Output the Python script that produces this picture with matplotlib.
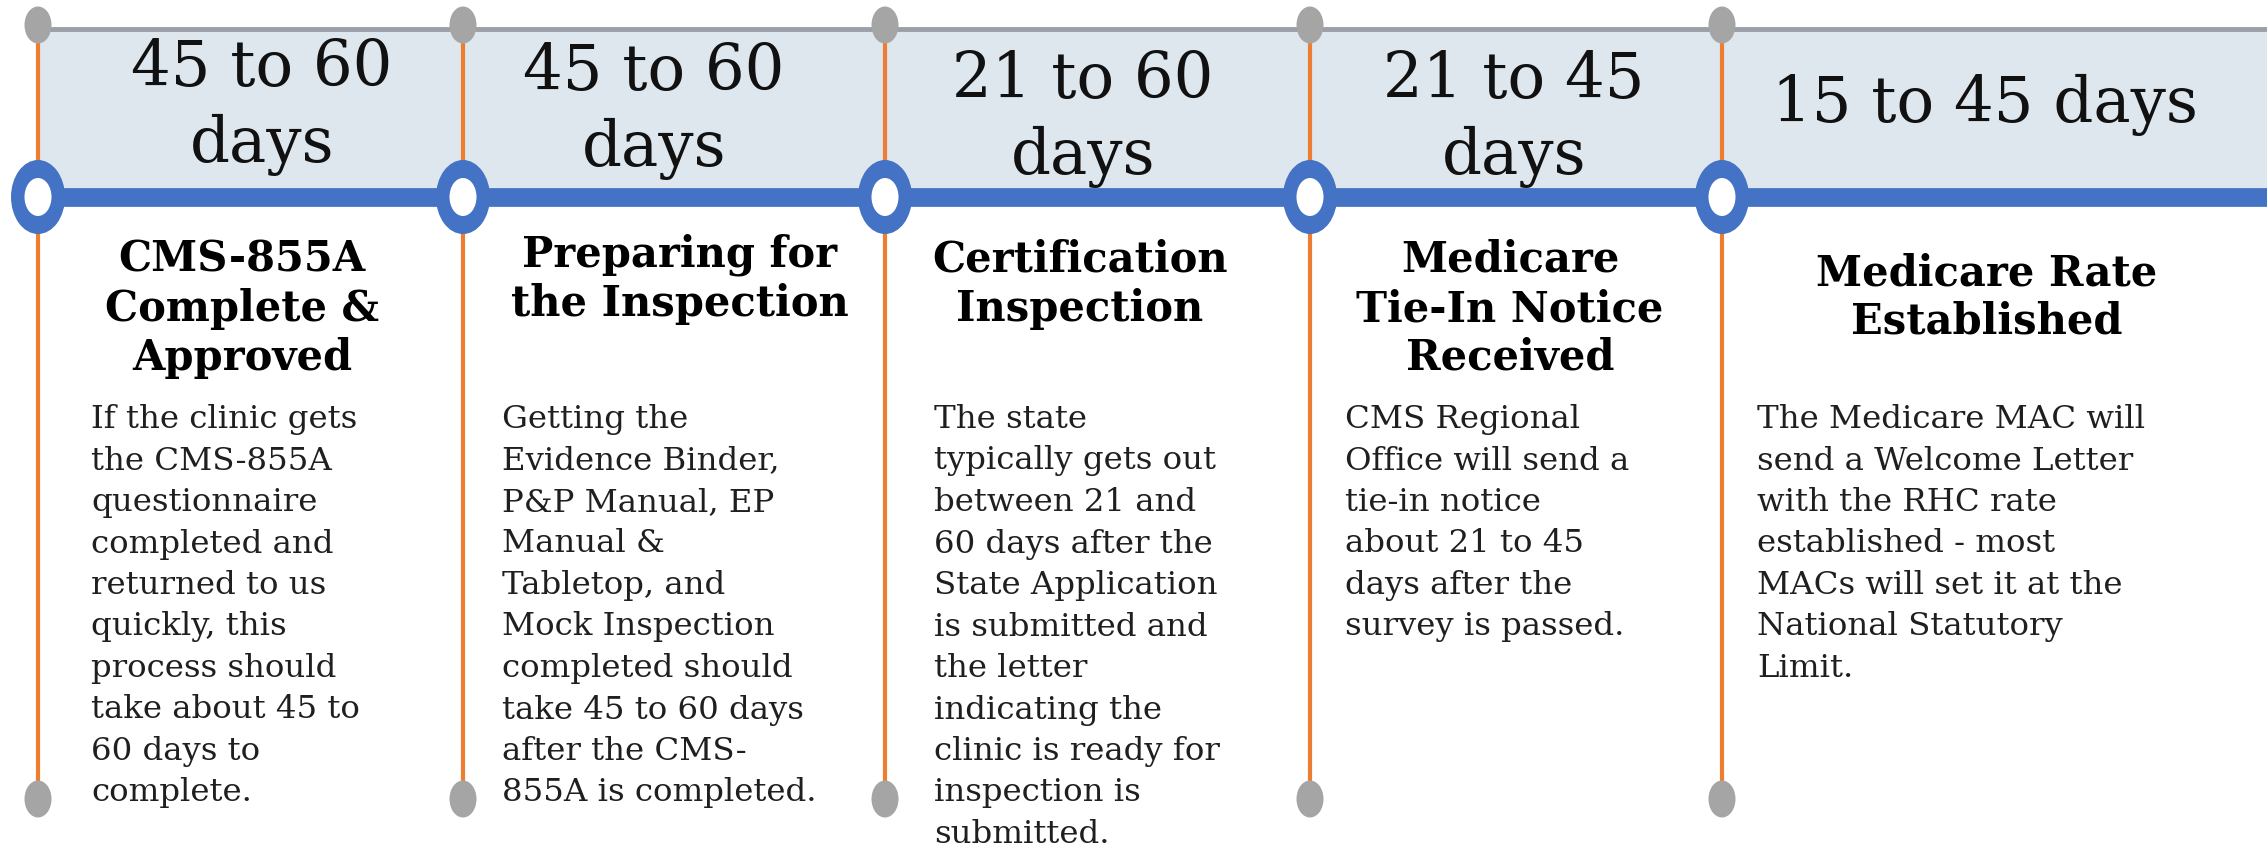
import matplotlib
matplotlib.use("Agg")
import matplotlib.pyplot as plt
from matplotlib.patches import Ellipse, Rectangle

# ---------------- data ----------------
durations = [
    ["45 to 60", "days"],
    ["45 to 60", "days"],
    ["21 to 60", "days"],
    ["21 to 45", "days"],
    ["15 to 45 days"],
]
titles = [
    ["CMS-855A", "Complete &", "Approved"],
    ["Preparing for", "the Inspection"],
    ["Certification", "Inspection"],
    ["Medicare", "Tie-In Notice", "Received"],
    ["Medicare Rate", "Established"],
]
descriptions = [
    ["If the clinic gets", "the CMS-855A", "questionnaire", "completed and",
     "returned to us", "quickly, this", "process should", "take about 45 to",
     "60 days to", "complete."],
    ["Getting the", "Evidence Binder,", "P&P Manual, EP", "Manual &",
     "Tabletop, and", "Mock Inspection", "completed should",
     "take 45 to 60 days", "after the CMS-", "855A is completed."],
    ["The state", "typically gets out", "between 21 and", "60 days after the",
     "State Application", "is submitted and", "the letter", "indicating the",
     "clinic is ready for", "inspection is", "submitted."],
    ["CMS Regional", "Office will send a", "tie-in notice", "about 21 to 45",
     "days after the", "survey is passed."],
    ["The Medicare MAC will", "send a Welcome Letter", "with the RHC rate",
     "established - most", "MACs will set it at the", "National Statutory",
     "Limit."],
]

# ---------------- layout (pixels) ----------------
W, H = 2267, 848
col_x = [38, 463, 885, 1310, 1722]
dur_cx = [262, 654, 1083, 1514, 1985]
dur_y0 = [86, 90, 98, 98, 122]
dur_dy = 76
title_cx = [242, 680, 1080, 1510, 1987]
title_y0 = [272, 267, 272, 272, 285]
title_dy = 49
body_x = [91, 502, 934, 1345, 1757]
body_y0 = 428
body_dy = 41.5

top_y, line_y, bot_y = 25, 197, 799

BLUE = "#4472c4"
ORANGE = "#ed7d31"
GRAY = "#a5a5a5"
FILL = "#dee6ee"

fig = plt.figure(figsize=(W / 100, H / 100), dpi=100)
ax = fig.add_axes([0, 0, 1, 1])
ax.set_xlim(0, W)
ax.set_ylim(H, 0)
ax.axis("off")

# light band
ax.add_patch(Rectangle((col_x[0], 29), W - col_x[0], line_y - 29,
                       facecolor=FILL, edgecolor="none", zorder=0))
# top gray border
ax.plot([col_x[0], W], [29, 29], color="#9aa0a6", lw=3.5, zorder=1,
        solid_capstyle="butt")
# blue timeline
ax.plot([col_x[0], W], [line_y, line_y], color=BLUE, lw=13.5, zorder=3,
        solid_capstyle="butt")

for i, x in enumerate(col_x):
    ax.plot([x, x], [top_y, bot_y], color=ORANGE, lw=3, zorder=2)
    ax.add_patch(Ellipse((x, top_y), 27, 37, facecolor=GRAY, edgecolor="none", zorder=4))
    ax.add_patch(Ellipse((x, bot_y), 27, 37, facecolor=GRAY, edgecolor="none", zorder=4))
    ax.add_patch(Ellipse((x, line_y), 54, 74, facecolor=BLUE, edgecolor="none", zorder=5))
    ax.add_patch(Ellipse((x, line_y), 27, 38, facecolor="white", edgecolor="none", zorder=6))

    for j, s in enumerate(durations[i]):
        ax.text(dur_cx[i], dur_y0[i] + j * dur_dy, s, ha="center", va="baseline",
                fontsize=45, family="DejaVu Serif", color="#111111", zorder=7)
    for j, s in enumerate(titles[i]):
        ax.text(title_cx[i], title_y0[i] + j * title_dy, s, ha="center", va="baseline",
                fontsize=30, family="DejaVu Serif", fontweight="bold",
                color="#000000", zorder=7)
    for j, s in enumerate(descriptions[i]):
        ax.text(body_x[i], body_y0 + j * body_dy, s, ha="left", va="baseline",
                fontsize=23.3, family="DejaVu Serif", color="#1f1f1f", zorder=7)

fig.savefig("out.png", dpi=100, facecolor="white")
